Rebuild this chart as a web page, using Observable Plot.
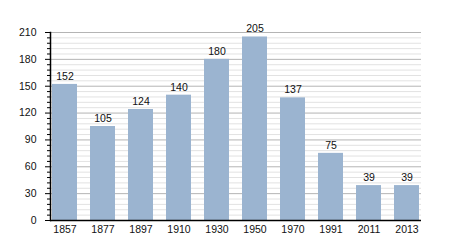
<!DOCTYPE html>
<html>
<head>
<meta charset="utf-8">
<script src="https://cdn.jsdelivr.net/npm/d3@7"></script>
<script src="https://cdn.jsdelivr.net/npm/@observablehq/plot@0.6"></script>
<style>
body { margin: 0; background: #fff; }
</style>
</head>
<body>
<div id="chart"></div>
<script>
const years = ["1857", "1877", "1897", "1910", "1930", "1950", "1970", "1991", "2011", "2013"];
const values = [152, 105, 124, 140, 180, 205, 137, 75, 39, 39];
const majorTicks = [0, 30, 60, 90, 120, 150, 180, 210];
const minorTicks = d3.range(0, 211, 6).filter(v => v % 30 !== 0);

const data = years.map((y, i) => ({year: y, value: values[i]}));

const chart = Plot.plot({
  width: 450,
  height: 250,
  marginLeft: 50,
  marginRight: 29,
  marginTop: 32,
  marginBottom: 30,
  style: {fontFamily: "Liberation Sans, Arial, sans-serif", fontSize: "10.5px", background: "#fff", color: "#111"},
  x: {domain: years, paddingInner: 0.33, paddingOuter: 0, label: null},
  y: {domain: [0, 210], label: null},
  marks: [
    Plot.ruleY(minorTicks, {stroke: "#e2e2e2", strokeWidth: 1}),
    Plot.ruleY(majorTicks, {stroke: "#b4b4b4", strokeWidth: 1}),
    Plot.barY(data, {x: "year", y: "value", fill: "#9bb4d0"}),
    Plot.text(data, {x: "year", y: "value", text: d => String(d.value), dy: -8, fontSize: 10.5, fill: "#111"}),
    Plot.axisY({ticks: majorTicks, tickSize: 5, tickPadding: 9, fontSize: 10.5, label: null, stroke: "#000"}),
    Plot.axisY({ticks: minorTicks, tickSize: 3, text: null, label: null, stroke: "#000"}),
    Plot.axisX({tickSize: 0, tickPadding: 5, fontSize: 10.5, label: null}),
    Plot.frame({anchor: "left", stroke: "#000", strokeWidth: 1.5}),
    Plot.ruleY([0], {stroke: "#000", strokeWidth: 1.5})
  ]
});
document.getElementById("chart").appendChild(chart);
</script>
</body>
</html>
